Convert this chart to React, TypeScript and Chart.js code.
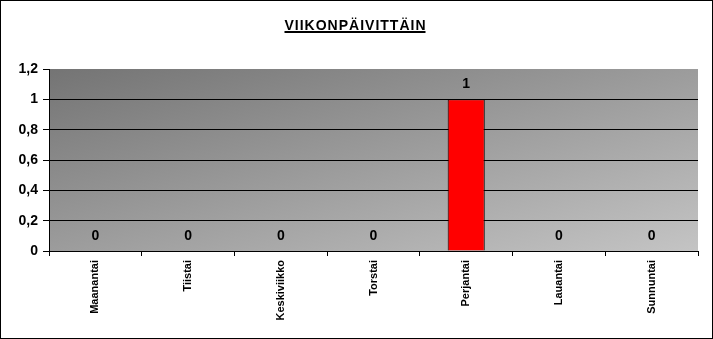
import React, { useEffect, useRef } from "react";
import { Chart, registerables } from "chart.js";

Chart.register(...registerables);

const title = "VIIKONPÄIVITTÄIN";
const categories = ["Maanantai", "Tiistai", "Keskiviikko", "Torstai", "Perjantai", "Lauantai", "Sunnuntai"];
const values = [0, 0, 0, 0, 1, 0, 0];
const yTicks = [0, 0.2, 0.4, 0.6, 0.8, 1, 1.2];

const FONT = "Arial, 'Liberation Sans', sans-serif";

const fmt = (v: number) => String(Number(v.toFixed(1))).replace(".", ",");

export default function App() {
  const ref = useRef<HTMLCanvasElement | null>(null);

  useEffect(() => {
    document.body.style.margin = "0";
    const canvas = ref.current!;
    const bgPlugin = {
      id: "bg",
      beforeDraw(chart: any) {
        const { ctx, chartArea: a } = chart;
        ctx.save();
        ctx.fillStyle = "#ffffff";
        ctx.fillRect(0, 0, chart.width, chart.height);
        const W = a.right - a.left;
        const H = a.bottom - a.top;
        const t = 2 / (1 / (W * W) + 1 / (H * H));
        const g = ctx.createLinearGradient(a.left, a.top, a.left + t / W, a.top + t / H);
        g.addColorStop(0, "#747474");
        g.addColorStop(1, "#c4c4c4");
        ctx.fillStyle = g;
        ctx.fillRect(a.left, a.top, W, H);
        ctx.restore();
      },
      afterDraw(chart: any) {
        const { ctx } = chart;
        ctx.save();
        ctx.strokeStyle = "#000";
        ctx.lineWidth = 1;
        ctx.strokeRect(0.5, 0.5, chart.width - 1, chart.height - 1);
        ctx.font = `bold 14px ${FONT}`;
        (ctx as any).letterSpacing = "1px";
        ctx.fillStyle = "#000";
        ctx.textAlign = "left";
        ctx.textBaseline = "alphabetic";
        const w = ctx.measureText(title).width - 1;
        const x0 = 355 - w / 2;
        ctx.fillText(title, x0, 30);
        ctx.fillRect(x0, 31, w, 2);
        (ctx as any).letterSpacing = "0px";
        const meta = chart.getDatasetMeta(0);
        ctx.font = `bold 14px ${FONT}`;
        ctx.textAlign = "center";
        ctx.textBaseline = "middle";
        meta.data.forEach((bar: any, i: number) => {
          ctx.fillText(fmt(values[i]), bar.x, bar.y - 15);
        });
        ctx.restore();
      },
    };

    const chart = new Chart(canvas, {
      type: "bar",
      data: {
        labels: categories,
        datasets: [
          {
            data: values,
            backgroundColor: "#ff0000",
            borderColor: "#000000",
            borderWidth: 1,
            barPercentage: 0.4,
            categoryPercentage: 1,
          },
        ],
      },
      options: {
        animation: false,
        responsive: false,
        events: [],
        layout: { padding: { top: 69, left: 0, right: 15, bottom: 0 } },
        plugins: { legend: { display: false }, title: { display: false }, tooltip: { enabled: false } },
        scales: {
          x: {
            grid: {
              display: true,
              drawOnChartArea: false,
              drawTicks: true,
              tickLength: 5,
              tickColor: "#000",
              offset: true,
            },
            border: { color: "#000", width: 1 },
            ticks: {
              color: "#000",
              font: { family: FONT, size: 11, weight: "bold" },
              minRotation: 90,
              maxRotation: 90,
              padding: 4,
              autoSkip: false,
            },
            afterFit(scale: any) {
              scale.height = 88;
            },
          },
          y: {
            min: 0,
            max: 1.2,
            afterBuildTicks(scale: any) {
              scale.ticks = yTicks.map((v) => ({ value: v }));
            },
            grid: {
              color: (c: any) => (c.tick && c.tick.value >= 1.2 ? "rgba(0,0,0,0)" : "#000"),
              tickColor: "#000",
              tickLength: 6,
              drawTicks: true,
            },
            border: { color: "#000", width: 1 },
            ticks: {
              color: "#000",
              font: { family: FONT, size: 14, weight: "bold" },
              padding: 5,
              callback: (v: any) => fmt(Number(v)),
            },
            afterFit(scale: any) {
              scale.width = 49;
            },
          },
        },
      },
      plugins: [bgPlugin],
    });
    return () => chart.destroy();
  }, []);

  return <canvas ref={ref} width={713} height={339} style={{ display: "block" }} />;
}
